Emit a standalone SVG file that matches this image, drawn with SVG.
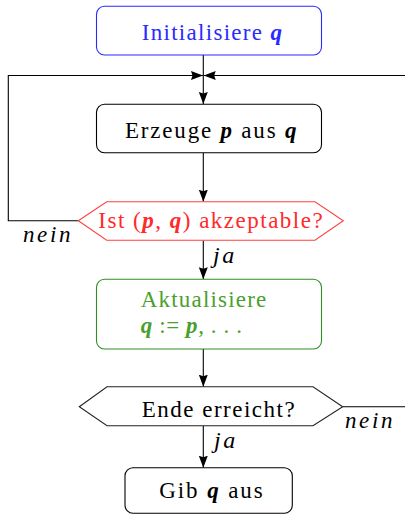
<svg xmlns="http://www.w3.org/2000/svg" width="405" height="515" viewBox="0 0 405 515" font-family="'Liberation Serif', serif">
  <style>
    text { font-family: 'Liberation Serif', serif; }
    .m { font-weight: bold; font-style: italic; }
    .lbl { font-style: italic; }
    .box { fill: #fff; stroke-width: 1.1; }
    .edge { fill: none; stroke: #000; stroke-width: 1.1; }
  </style>
  <defs>
    <marker id="arrow" markerUnits="userSpaceOnUse" markerWidth="13" markerHeight="10" refX="12" refY="4.5" orient="auto">
      <path d="M0,0 L12,4.5 L0,9 L1.5,4.5 z" fill="#000"/>
    </marker>
  </defs>
  <rect width="405" height="515" fill="#fff"/>

  <!-- connectors and branch labels -->
  <g id="connectors">
    <path class="edge" d="M203.3,55 V104" marker-end="url(#arrow)"/>
    <path class="edge" d="M78.3,220.7 H8.3 V75.5 H203" marker-end="url(#arrow)"/>
    <path class="edge" d="M342.7,406.7 H412 V75.5 H203.7" marker-end="url(#arrow)"/>
    <path class="edge" d="M203.3,152.7 V201.7" marker-end="url(#arrow)"/>
    <path class="edge" d="M203.3,240.5 V279.3" marker-end="url(#arrow)"/>
    <path class="edge" d="M203.3,349 V386.7" marker-end="url(#arrow)"/>
    <path class="edge" d="M203.3,426 V467.7" marker-end="url(#arrow)"/>
    <text class="lbl" font-family="'Liberation Serif'" font-size="23" letter-spacing="2.6" x="23" y="242">nein</text>
    <text class="lbl" font-family="'Liberation Serif'" font-size="24" letter-spacing="2.5" x="213" y="263">ja</text>
    <text class="lbl" font-family="'Liberation Serif'" font-size="23" letter-spacing="2.6" x="345" y="428">nein</text>
    <text class="lbl" font-family="'Liberation Serif'" font-size="24" letter-spacing="2.5" x="214" y="448">ja</text>
  </g>

  <g id="init">
    <rect class="box" x="96.5" y="6.3" width="225" height="48.7" rx="8" stroke="#2a2aff"/>
    <text font-family="'Liberation Serif'" font-size="23" letter-spacing="1.3" x="141.7" y="40" fill="#2a2aff">Initialisiere <tspan class="m">q</tspan></text>
  </g>

  <g id="generate">
    <rect class="box" x="96.5" y="104.3" width="225" height="48.4" rx="8" stroke="#000"/>
    <text font-family="'Liberation Serif'" font-size="23" letter-spacing="1.8" x="125" y="137.7" fill="#000">Erzeuge <tspan class="m">p</tspan> aus <tspan class="m">q</tspan></text>
  </g>

  <g id="accept">
    <polygon class="box" points="78.3,220.8 106.7,201.7 315,201.7 343.3,220.8 315,240.2 106.7,240.2" stroke="#ff4040"/>
    <text font-family="'Liberation Serif'" font-size="23" letter-spacing="1.5" x="98.3" y="228.3" fill="#ff2a2a">Ist (<tspan class="m">p</tspan>, <tspan class="m">q</tspan>) akzeptable?</text>
  </g>

  <g id="update">
    <rect class="box" x="96.5" y="279.3" width="225" height="69.7" rx="8" stroke="#2e8f22"/>
    <text font-family="'Liberation Serif'" font-size="23" letter-spacing="1.2" x="140.7" y="306.7" fill="#4a9f2e">Aktualisiere</text>
    <text font-family="'Liberation Serif'" font-size="23" letter-spacing="0.6" x="140.7" y="333" fill="#4a9f2e"><tspan class="m">q</tspan> := <tspan class="m">p</tspan>, . . .</text>
  </g>

  <g id="done">
    <polygon class="box" points="79.3,406.7 107,386.7 313,386.7 342.7,406.7 313,425.7 107,425.7" stroke="#222"/>
    <text font-family="'Liberation Serif'" font-size="23" letter-spacing="1.5" x="141.7" y="416.7" fill="#000">Ende erreicht?</text>
  </g>

  <g id="output">
    <rect class="box" x="125" y="467.7" width="167.3" height="45.5" rx="8" stroke="#000"/>
    <text font-family="'Liberation Serif'" font-size="23" letter-spacing="1.9" x="159.3" y="498.3" fill="#000">Gib <tspan class="m">q</tspan> aus</text>
  </g>
</svg>
